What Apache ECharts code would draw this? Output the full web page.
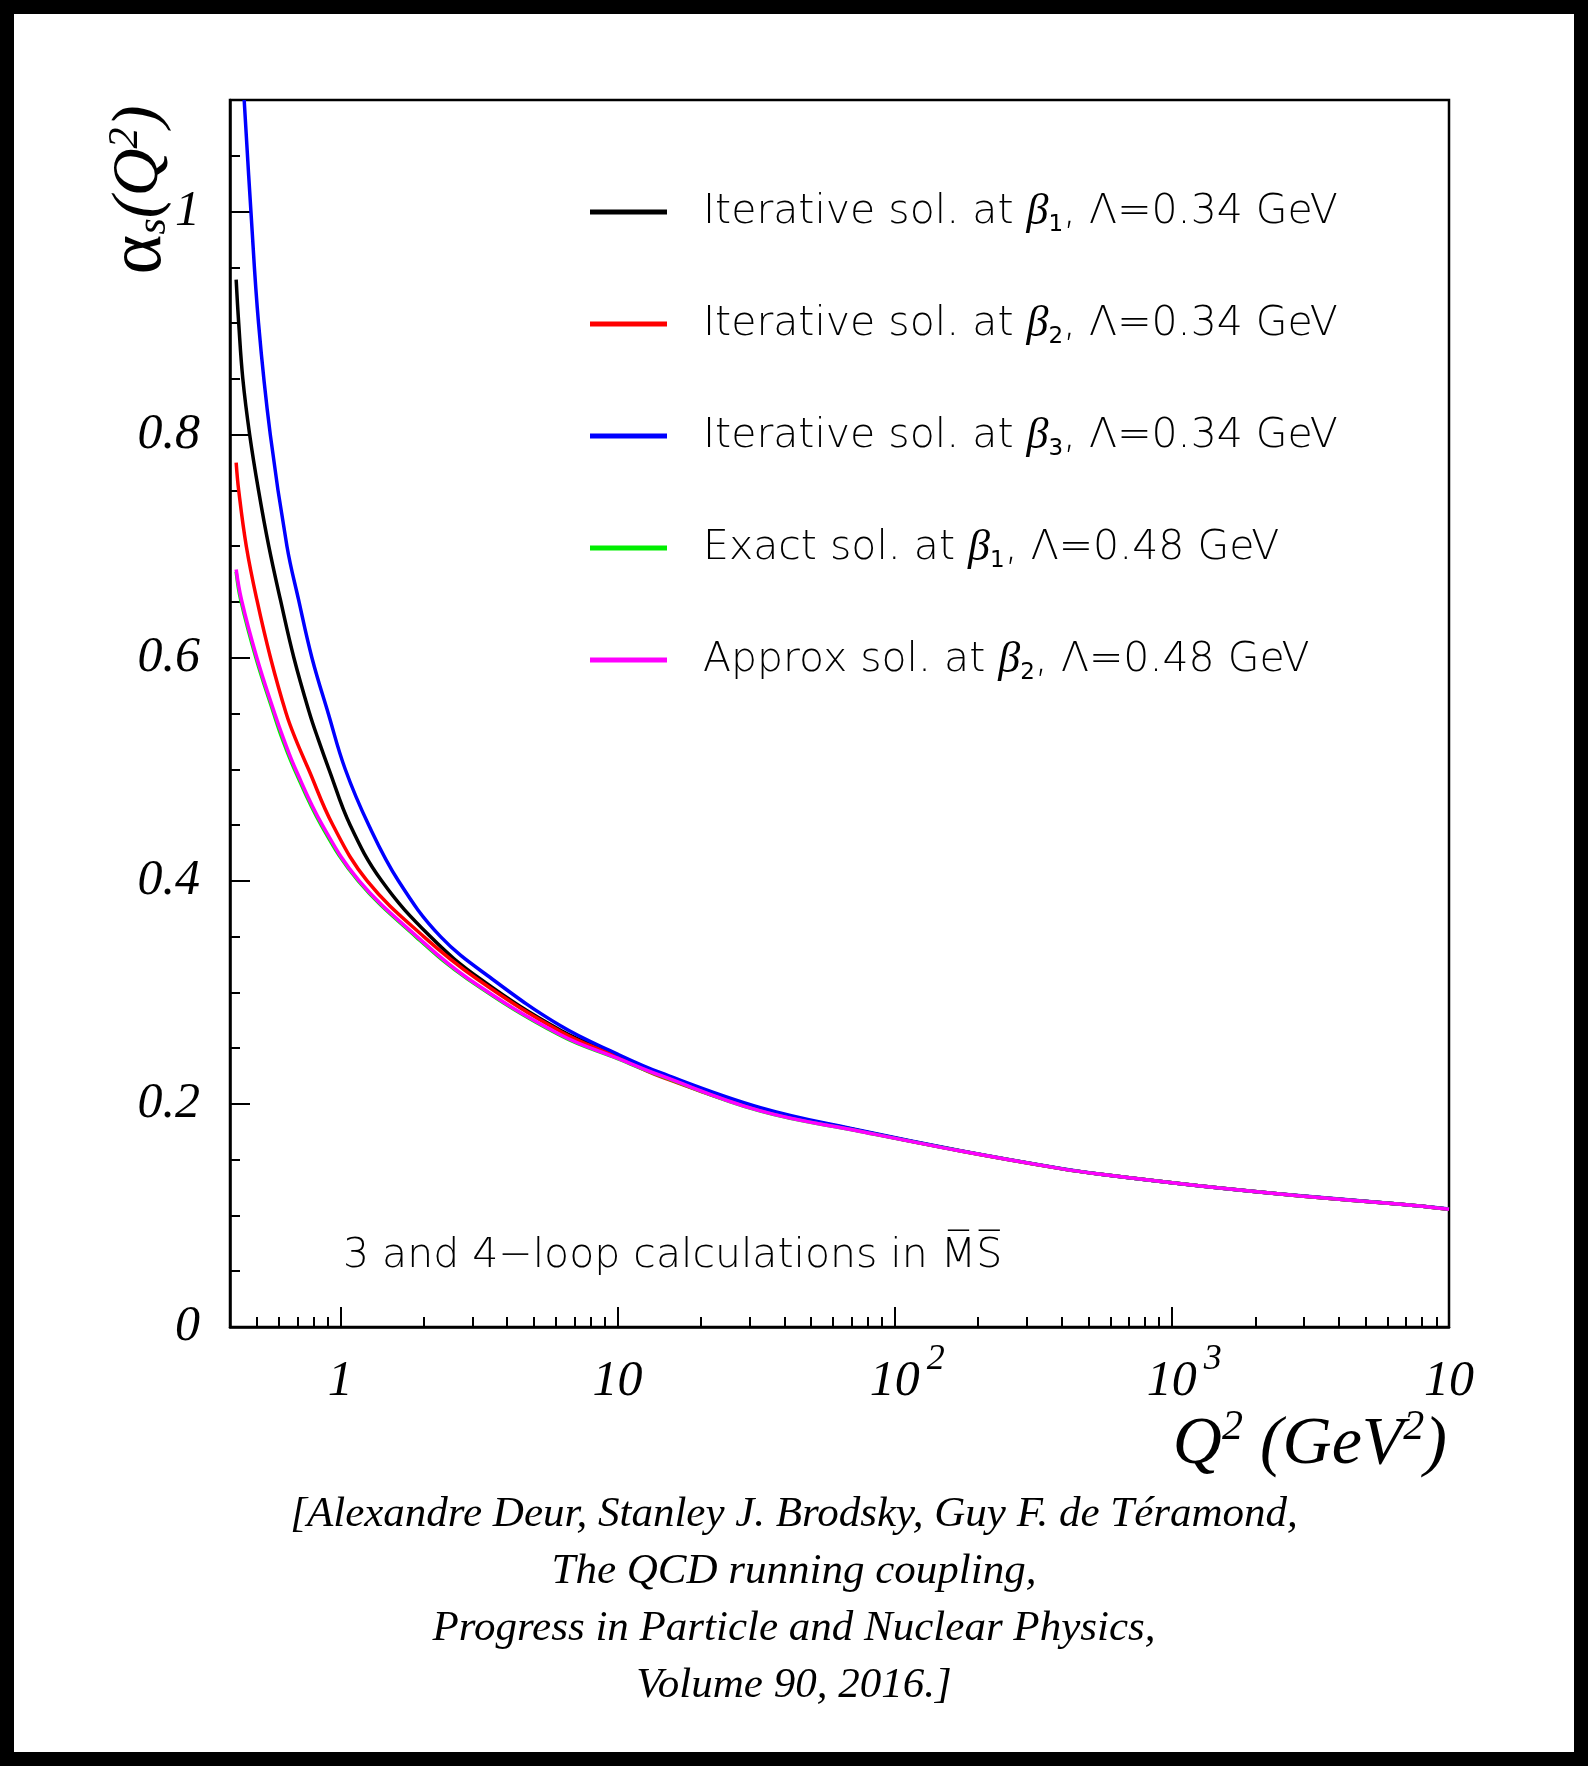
<!DOCTYPE html>
<html>
<head>
<meta charset="utf-8">
<script src="https://cdn.jsdelivr.net/npm/echarts@6/dist/echarts.min.js"></script>
<style>
  html, body { margin: 0; padding: 0; background: #fff; }
  #chart { width: 1588px; height: 1766px; }
</style>
</head>
<body>
<div id="chart"></div>
<script>
// values: Q^2 (GeV^2) and alpha_s
const q2Black = [0.421, 0.430, 0.445, 0.471, 0.507, 0.552, 0.608, 0.680, 0.775, 0.832, 0.910, 1.085, 1.410, 2.113, 3.20, 6.23, 10, 14.3, 32.8, 75.4, 173, 397, 554, 1273, 2922, 6710, 10000]
const alphaBlack = [0.939, 0.900, 0.850, 0.800, 0.750, 0.700, 0.652, 0.600, 0.550, 0.527, 0.500, 0.450, 0.400, 0.350, 0.312, 0.266, 0.2435, 0.2265, 0.1955, 0.1758, 0.1579, 0.1420, 0.1369, 0.1264, 0.1175, 0.1100, 0.1056]

const q2Red = [0.421, 0.430, 0.458, 0.500, 0.560, 0.638, 0.690, 0.768, 0.940, 1.250, 2.00, 3.114, 6.23, 10, 14.3, 32.8, 75.4, 173, 397, 554, 1273, 2922, 6710, 10000]
const alphaRed = [0.775, 0.750, 0.700, 0.652, 0.600, 0.550, 0.527, 0.500, 0.450, 0.400, 0.350, 0.312, 0.265, 0.242, 0.2245, 0.1945, 0.1755, 0.1578, 0.1420, 0.1369, 0.1264, 0.1175, 0.1100, 0.1056]

const q2Blue = [0.450, 0.476, 0.507, 0.559, 0.642, 0.707, 0.790, 0.905, 1.042, 1.266, 1.620, 2.30, 3.53, 6.23, 10, 14.3, 32.8, 75.4, 173, 397, 554, 1273, 2922, 6710, 10000]
const alphaBlue = [1.100, 1.000, 0.900, 0.800, 0.700, 0.652, 0.600, 0.550, 0.500, 0.450, 0.400, 0.350, 0.312, 0.270, 0.2447, 0.2280, 0.1967, 0.1762, 0.1581, 0.1422, 0.1370, 0.1265, 0.1176, 0.1100, 0.1057]

const q2Green = [0.421, 0.437, 0.496, 0.575, 0.618, 0.683, 0.853, 1.160, 1.870, 2.880, 6.20, 10, 14.3, 32.8, 75.4, 173, 397, 554, 1273, 2922, 6710, 10000]
const alphaGreen = [0.677, 0.652, 0.600, 0.550, 0.527, 0.500, 0.450, 0.400, 0.350, 0.312, 0.2615, 0.2405, 0.2252, 0.1935, 0.1753, 0.1578, 0.1420, 0.1369, 0.1264, 0.1175, 0.1100, 0.1056]

const q2Magenta = [0.421, 0.440, 0.500, 0.580, 0.625, 0.690, 0.862, 1.170, 1.892, 2.907, 6.23, 10, 14.3, 32.8, 75.4, 173, 397, 554, 1273, 2922, 6710, 10000]
const alphaMagenta = [0.679, 0.652, 0.600, 0.550, 0.527, 0.500, 0.450, 0.400, 0.350, 0.312, 0.262, 0.241, 0.2255, 0.1937, 0.1753, 0.1578, 0.1420, 0.1369, 0.1264, 0.1175, 0.1100, 0.1056]

const seriesNames = [
  'Iterative sol. at β1, Λ=0.34 GeV',
  'Iterative sol. at β2, Λ=0.34 GeV',
  'Iterative sol. at β3, Λ=0.34 GeV',
  'Exact sol. at β1, Λ=0.48 GeV',
  'Approx sol. at β2, Λ=0.48 GeV'
]

const xTickValues = [1, 10, 100, 1000, 10000]
const xTickLabels = ['1', '10', '10^2', '10^3', '10']
const yTickValues = [0, 0.2, 0.4, 0.6, 0.8, 1]
const yTickLabels = ['0', '0.2', '0.4', '0.6', '0.8', '1']

const citation = '[Alexandre Deur, Stanley J. Brodsky, Guy F. de Téramond,\nThe QCD running coupling,\nProgress in Particle and Nuclear Physics,\nVolume 90, 2016.]'

// styles
const colors = ['#000000', '#ff0000', '#0000ff', '#00ee00', '#ff00ff']
const serif = 'Liberation Serif'
const sans = 'DejaVu Sans'

const pairs = (xs, ys) => xs.map((x, i) => [x, ys[i]])
const curves = [
  pairs(q2Black, alphaBlack),
  pairs(q2Red, alphaRed),
  pairs(q2Blue, alphaBlue),
  pairs(q2Green, alphaGreen),
  pairs(q2Magenta, alphaMagenta)
]

// minor ticks of the log axis: 2..9 in each decade
const minorTicks = []
for (let d = 0.1; d < 10000; d *= 10) {
  for (let k = 2; k <= 9; k++) {
    const v = Math.round(k * d * 1000) / 1000
    if (v > 0.4 && v < 10000) minorTicks.push(v)
  }
}

const chart = echarts.init(document.getElementById('chart'))

const xLabel = (value) => {
  const i = xTickValues.findIndex((v) => Math.abs(v - value) / v < 1e-6)
  if (i < 0) return ''
  const parts = xTickLabels[i].split('^')
  if (parts.length === 1) return '{m|' + parts[0] + '}'
  return '{h|' + parts[1] + '}{m|' + parts[0] + '}{p|' + parts[1] + '}'
}

const legendText = (name) => {
  const m = name.match(/^(.*)β(\d)(.*)$/)
  return '{gap|}{txt|' + m[1] + '}{greek|β}{idx|' + m[2] + '}{txt|' + m[3] + '}'
}

const option = {
  animation: false,
  backgroundColor: '#ffffff',
  grid: {
    left: 230, right: 139, top: 100, bottom: 439,
    show: true, borderColor: '#000', borderWidth: 2.5,
    outerBoundsMode: 'none'
  },
  xAxis: [
    {
      type: 'log', logBase: 10, min: 0.4, max: 10000, position: 'bottom',
      axisLine: { show: true, lineStyle: { color: '#000', width: 2.5 } },
      axisTick: { show: true, inside: true, length: 20, customValues: xTickValues, lineStyle: { color: '#000', width: 2 } },
      minorTick: { show: false },
      splitLine: { show: false },
      axisLabel: {
        customValues: xTickValues,
        margin: 15,
        formatter: xLabel,
        rich: {
          m: { fontFamily: serif, fontStyle: 'italic', fontSize: 50, lineHeight: 80, color: '#000' },
          p: { fontFamily: serif, fontStyle: 'italic', fontSize: 36, lineHeight: 10, verticalAlign: 'top', padding: [0, 0, 0, 7], color: '#000' },
          h: { fontFamily: serif, fontStyle: 'italic', fontSize: 36, lineHeight: 10, verticalAlign: 'top', padding: [0, 7, 0, 0], color: 'rgba(0,0,0,0)' }
        }
      }
    },
    {
      type: 'log', logBase: 10, min: 0.4, max: 10000, position: 'bottom',
      axisLine: { show: false },
      axisTick: { show: true, inside: true, length: 10, customValues: minorTicks, lineStyle: { color: '#000', width: 2 } },
      axisLabel: { show: false },
      splitLine: { show: false }
    }
  ],
  yAxis: {
    type: 'value', min: 0, max: 1.1, interval: 0.2,
    axisLine: { show: true, lineStyle: { color: '#000', width: 2.5 } },
    axisTick: { show: true, inside: true, length: 20, customValues: yTickValues, lineStyle: { color: '#000', width: 2 } },
    minorTick: { show: true, splitNumber: 4, length: 10, lineStyle: { color: '#000', width: 2 } },
    splitLine: { show: false },
    minorSplitLine: { show: false },
    axisLabel: {
      customValues: yTickValues,
      margin: 30,
      fontFamily: serif, fontStyle: 'italic', fontSize: 50, color: '#000',
      formatter: (value) => {
        const i = yTickValues.findIndex((v) => Math.abs(v - value) < 1e-6)
        return i < 0 ? '' : yTickLabels[i]
      }
    }
  },
  legend: {
    orient: 'vertical',
    left: 590, top: 190, padding: 0,
    itemWidth: 77, itemHeight: 5, itemGap: 65,
    icon: 'rect',
    data: seriesNames,
    formatter: legendText,
    textStyle: {
      color: '#000',
      fontWeight: 'normal',
      rich: {
        gap: { width: 31, lineHeight: 50 },
        txt: { fontFamily: sans, fontWeight: 200, fontSize: 41, lineHeight: 50, color: '#000' },
        greek: { fontFamily: serif, fontStyle: 'italic', fontWeight: 'normal', fontSize: 44, lineHeight: 50, color: '#000' },
        idx: { fontFamily: sans, fontWeight: 'normal', fontSize: 23, lineHeight: 20, verticalAlign: 'bottom', color: '#000' }
      }
    }
  },
  series: curves.map((d, i) => ({
    name: seriesNames[i],
    type: 'line',
    data: d,
    symbol: 'none',
    showSymbol: false,
    smooth: 0.4,
    clip: true,
    lineStyle: { color: colors[i], width: 3.5 },
    itemStyle: { color: colors[i] },
    z: 3 + i
  })),
  graphic: [
    {
      type: 'rect', silent: true, z: 100,
      shape: { x: 0, y: 0, width: 1588, height: 1766 },
      style: { fill: 'none', stroke: '#000', lineWidth: 28 }
    },
    {
      type: 'text', x: 140, y: 190, rotation: Math.PI / 2,
      style: {
        text: '{a|α}{s|s}{m|(Q}{p|2}{m|)}',
        align: 'center', verticalAlign: 'middle',
        rich: {
          a: { fontFamily: serif, fontSize: 76, lineHeight: 70, fill: '#000' },
          s: { fontFamily: serif, fontStyle: 'italic', fontSize: 42, lineHeight: 24, verticalAlign: 'bottom', fill: '#000' },
          m: { fontFamily: serif, fontStyle: 'italic', fontSize: 66, lineHeight: 70, fill: '#000' },
          p: { fontFamily: serif, fontStyle: 'italic', fontSize: 42, lineHeight: 24, verticalAlign: 'top', fill: '#000' }
        }
      }
    },
    {
      type: 'text', x: 1447, y: 1445,
      style: {
        text: '{m|Q}{p|2}{m| (GeV}{p|2}{m|)}',
        align: 'right', verticalAlign: 'middle',
        rich: {
          m: { fontFamily: serif, fontStyle: 'italic', fontSize: 68, lineHeight: 76, fill: '#000' },
          p: { fontFamily: serif, fontStyle: 'italic', fontSize: 42, lineHeight: 24, verticalAlign: 'top', fill: '#000' }
        }
      }
    },
    {
      type: 'text', x: 343, y: 1256,
      style: {
        text: '3 and 4\u2212loop calculations in M\u0305S\u0305',
        fontFamily: sans, fontWeight: 200, fontSize: 41, fill: '#000',
        align: 'left', verticalAlign: 'middle'
      }
    },
    {
      type: 'text', x: 794, y: 1486,
      style: {
        text: citation,
        fontFamily: serif, fontStyle: 'italic', fontSize: 43, lineHeight: 57, fill: '#000',
        align: 'center', verticalAlign: 'top'
      }
    }
  ]
}

chart.setOption(option)
</script>
</body>
</html>
